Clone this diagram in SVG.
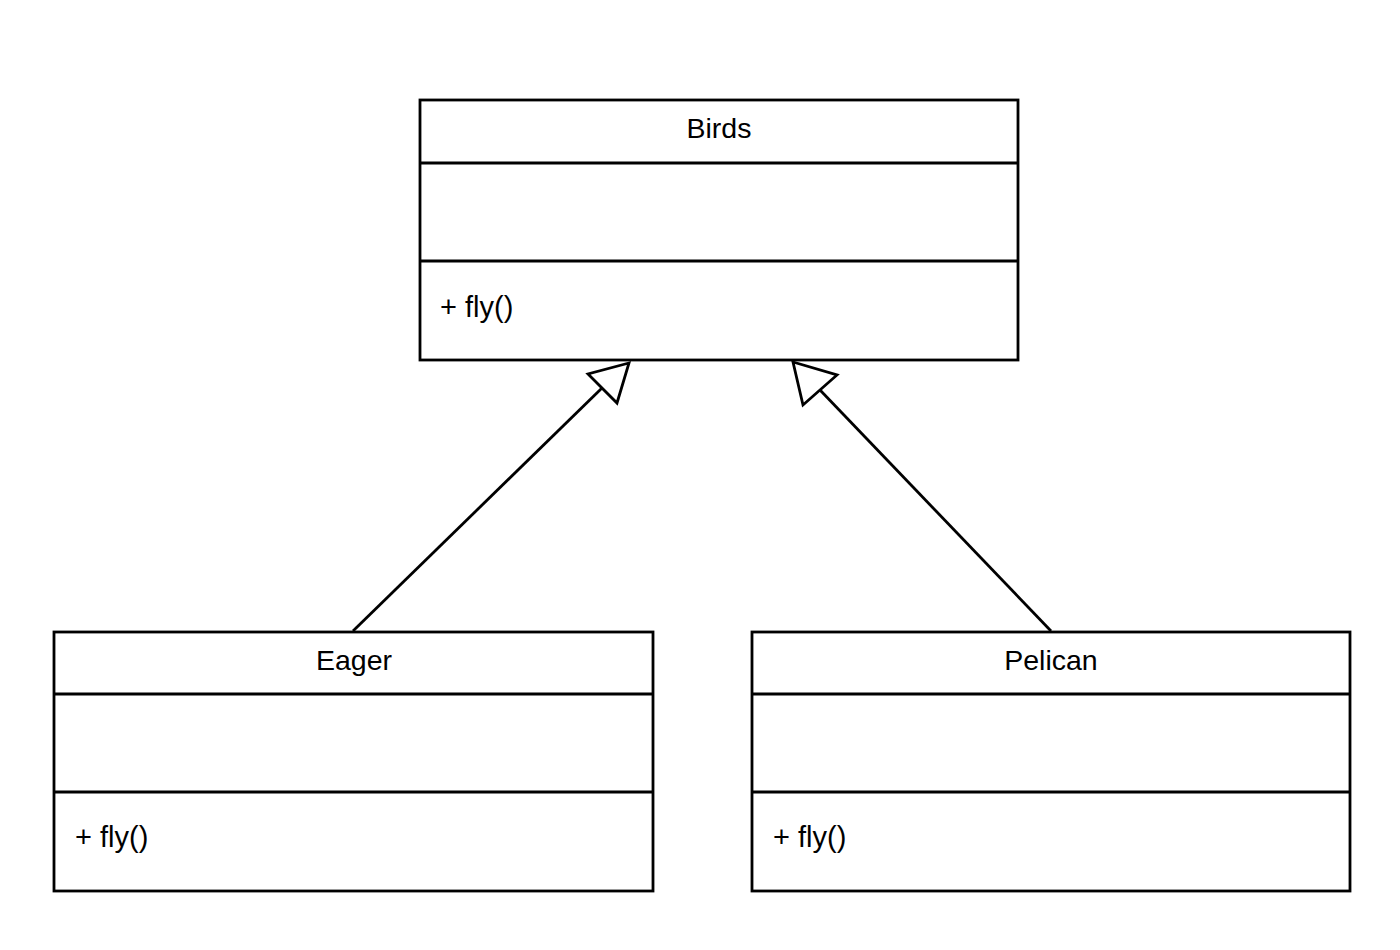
<svg xmlns="http://www.w3.org/2000/svg" width="1400" height="950" viewBox="0 0 1400 950">
<style>
.box{fill:#fff;stroke:#000;stroke-width:2.8}
.div{stroke:#000;stroke-width:2.8}
.t{font-family:"Liberation Sans",Arial,sans-serif;font-size:28.5px;fill:#000}
.m{font-size:29px}
.c{text-anchor:middle}
.edge{stroke:#000;stroke-width:2.8;fill:none}
.head{fill:#fff;stroke:#000;stroke-width:2.8;stroke-linejoin:miter}
</style>
<rect width="1400" height="950" fill="#fff"/>
<g id="birds">
<rect class="box" x="420" y="100" width="598" height="260"/>
<line class="div" x1="420" y1="163" x2="1018" y2="163"/>
<line class="div" x1="420" y1="261" x2="1018" y2="261"/>
<text class="t c" x="719" y="138">Birds</text>
<text class="t m" x="440" y="317">+ fly()</text>
</g>
<g id="eager">
<rect class="box" x="54" y="632" width="599" height="259"/>
<line class="div" x1="54" y1="694" x2="653" y2="694"/>
<line class="div" x1="54" y1="792" x2="653" y2="792"/>
<text class="t c" x="354" y="670">Eager</text>
<text class="t m" x="75" y="847">+ fly()</text>
</g>
<g id="pelican">
<rect class="box" x="752" y="632" width="598" height="259"/>
<line class="div" x1="752" y1="694" x2="1350" y2="694"/>
<line class="div" x1="752" y1="792" x2="1350" y2="792"/>
<text class="t c" x="1051" y="670">Pelican</text>
<text class="t m" x="773" y="847">+ fly()</text>
</g>
<g id="connectors">
<line class="edge" x1="353" y1="631" x2="602" y2="388"/>
<polygon class="head" points="629,363 588,374 617,403"/>
<line class="edge" x1="1051" y1="631" x2="820" y2="390"/>
<polygon class="head" points="793,362 837,375 803,405"/>
</g>
</svg>
